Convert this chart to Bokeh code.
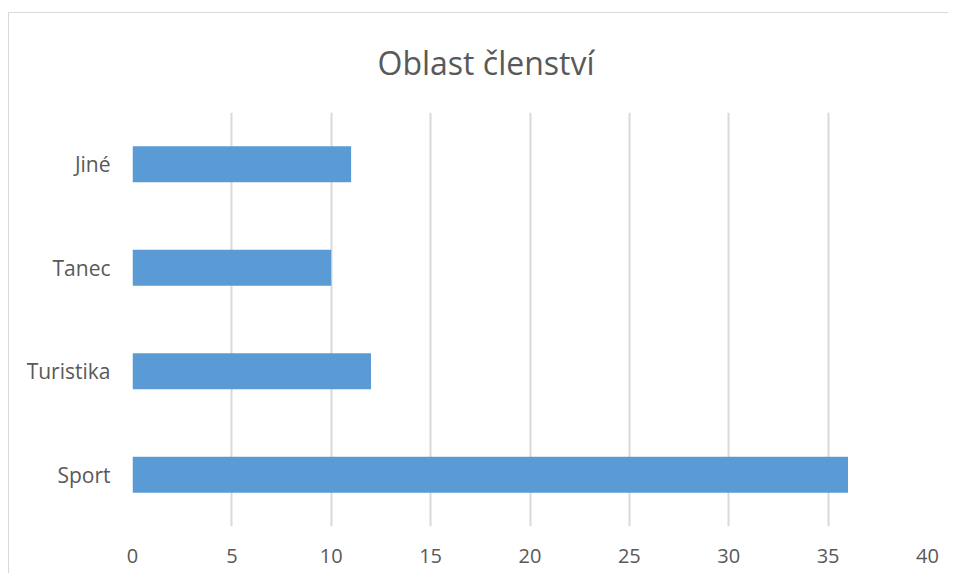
from bokeh.plotting import figure
from bokeh.models import FactorRange, Range1d, FixedTicker
from bokeh.embed import file_html
from bokeh.resources import INLINE

categories = ["Sport", "Turistika", "Tanec", "Jiné"]
values = [36, 12, 10, 11]
x_ticks = [0, 5, 10, 15, 20, 25, 30, 35, 40]
title_text = "Oblast členství"

FONT = "Open Sans"
TEXT = "#595959"
GRID = "#D9D9D9"
BAR = "#5B9BD5"

p = figure(width=940, height=561, output_backend="svg", toolbar_location=None,
           y_range=FactorRange(*categories), x_range=Range1d(0, 40),
           min_border_left=123, min_border_right=22, min_border_top=99,
           min_border_bottom=48, title=title_text)
p.margin = (12, 0, 0, 8)
p.styles = {"border-left": "1px solid #D9D9D9", "border-top": "1px solid #D9D9D9"}
p.outline_line_color = None
p.background_fill_color = "white"
p.border_fill_color = "white"

p.title.align = "left"
p.title.offset = 245
p.title.vertical_align = "top"
p.title.standoff = 54
p.title.text_font = FONT
p.title.text_font_size = "32px"
p.title.text_font_style = "normal"
p.title.text_color = TEXT

p.hbar(y=categories, right=values, left=0, height=0.35, color=BAR, line_color=None)

p.xgrid.grid_line_color = GRID
p.xgrid.grid_line_width = 2
p.ygrid.grid_line_color = None
p.xaxis.ticker = FixedTicker(ticks=x_ticks)
p.xaxis.axis_line_color = None
p.xaxis.major_tick_line_color = None
p.xaxis.minor_tick_line_color = None
p.xaxis.major_label_text_font = FONT
p.xaxis.major_label_text_font_size = "20px"
p.xaxis.major_label_text_color = TEXT
p.xaxis.major_label_standoff = 16

p.yaxis.axis_line_color = None
p.yaxis.major_tick_line_color = None
p.yaxis.major_tick_in = 0
p.yaxis.major_tick_out = 0
p.yaxis.major_label_text_font = FONT
p.yaxis.major_label_text_font_size = "21px"
p.yaxis.major_label_text_color = TEXT
p.yaxis.major_label_standoff = 22

open("out.html", "w").write(file_html(p, INLINE))
